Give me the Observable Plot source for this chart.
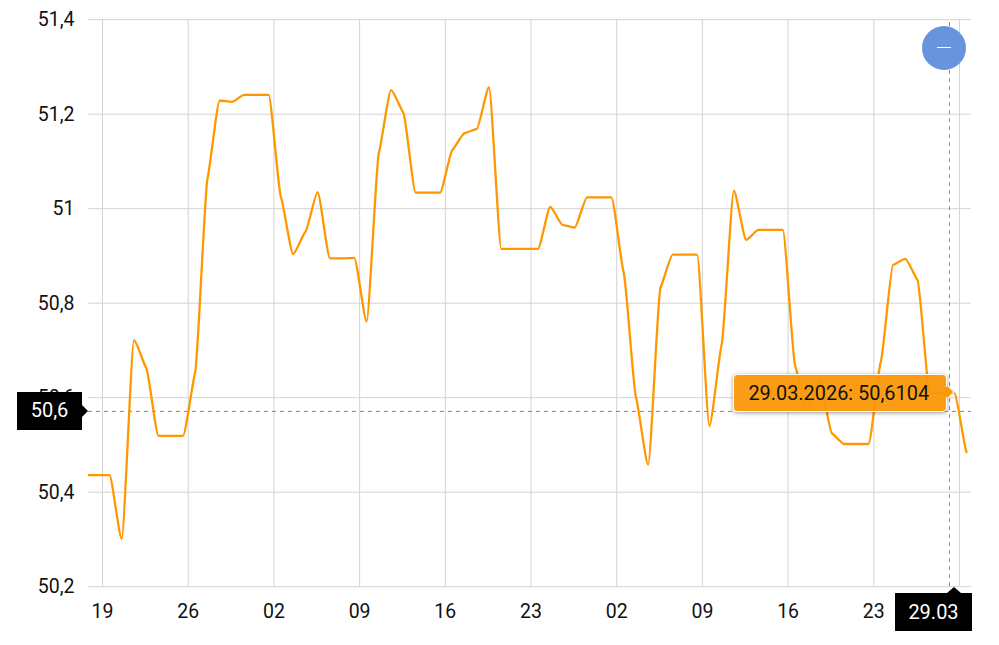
<!DOCTYPE html>
<html>
<head>
<meta charset="utf-8">
<script src="https://cdn.jsdelivr.net/npm/d3@7"></script>
<script src="https://cdn.jsdelivr.net/npm/@observablehq/plot@0.6"></script>
<style>
  html, body { margin: 0; padding: 0; background: #fff; }
  body { width: 999px; height: 645px; overflow: hidden; position: relative; font-family: Roboto, sans-serif; }
  #chart svg { display: block; }
  .flag { position: absolute; background: #000; color: #fff; font-size: 20px; display: flex; align-items: center; justify-content: center; box-sizing: border-box; }
  .flag::after { content: ""; position: absolute; width: 0; height: 0; border-style: solid; }
  #yflag { width: 65px; height: 38px; padding-bottom: 2px; }
  #yflag::after { left: 65px; top: 12.5px; border-width: 6px 0 6px 6px; border-color: transparent transparent transparent #000; }
  #xflag { width: 77px; height: 38px; padding-bottom: 1px; }
  #xflag::after { top: -6px; left: 52px; border-width: 0 7px 6px 7px; border-color: transparent transparent #000 transparent; }
  #tip { position: absolute; width: 214px; height: 38px; box-sizing: border-box; border: 1.5px solid #fff; border-radius: 4px; background: rgba(250,152,8,.95); box-shadow: 0 1px 4px rgba(0,0,0,.4); color: #111; font-size: 19.9px; display: flex; align-items: center; justify-content: center; white-space: nowrap; padding-right: 2px; }
  #tip::after { content: ""; position: absolute; right: -7px; top: 12px; width: 10px; height: 10px; box-sizing: border-box; transform: rotate(45deg) scale(.95); background: rgb(250,152,8); border-top: 1.5px solid #fff; border-right: 1.5px solid #fff; }
  #zoomout { position: absolute; left: 921.5px; top: 25.5px; width: 44px; height: 44px; border-radius: 50%; background: #6794dc; }
  #zoomout::after { content: ""; position: absolute; left: 15px; top: 21px; width: 14px; height: 1px; background: #fff; }
</style>
</head>
<body>
<div id="chart"></div>
<script>
const firstDate = "2026-01-17";
const lastDate = "2026-03-31";
const values = [
  50.436, 50.436, 50.436, 50.301, 50.722, 50.663, 50.519, 50.519, 50.519, 50.654,
  51.063, 51.229, 51.226, 51.241, 51.241, 51.241,
  51.025, 50.904, 50.951, 51.035, 50.895, 50.895, 50.896,
  50.761, 51.118, 51.251, 51.203, 51.034, 51.034, 51.034,
  51.124, 51.160, 51.169, 51.257, 50.915, 50.915, 50.915,
  50.915, 51.004, 50.966, 50.960, 51.024, 51.024, 51.024,
  50.865, 50.601, 50.458, 50.832, 50.903, 50.903, 50.903,
  50.540, 50.712, 51.038, 50.934, 50.955, 50.955, 50.955,
  50.668, 50.574, 50.637, 50.525, 50.502, 50.502, 50.502,
  50.676, 50.881, 50.894, 50.849, 50.6104, 50.6104, 50.6104, 50.485
];
const yTicks = [50.2, 50.4, 50.6, 50.8, 51, 51.2, 51.4];
const xTickDates = ["2026-01-19","2026-01-26","2026-02-02","2026-02-09","2026-02-16","2026-02-23","2026-03-02","2026-03-09","2026-03-16","2026-03-23","2026-03-30"];
const xTickHidden = ["2026-03-30"];
const xDomain = ["2026-01-17T20:33Z", "2026-03-30T23:30Z"];
const crossDate = "2026-03-29T04:20Z";
const crossValue = 50.571;
const activeDate = "2026-03-29";
const activeValue = 50.6104;
const readoutY = "50,6";
const readoutX = "29.03";
const tipText = "29.03.2026: 50,6104";

const hourOfDay = 13.7 * 3600e3;
const days = d3.utcDay.range(new Date(firstDate), new Date(lastDate));
const rows = days.map((d, i) => ({date: new Date(+d + hourOfDay), value: values[i]}));
const comma = d => String(d).replace(".", ",");

function softMonotone(kx, ky) {
  return ctx => {
    let px, py;
    const proxy = {
      moveTo(x, y) { ctx.moveTo(x, y); px = x; py = y; },
      lineTo(x, y) { ctx.lineTo(x, y); px = x; py = y; },
      closePath() { ctx.closePath(); },
      bezierCurveTo(a, b, c, d, x, y) {
        ctx.bezierCurveTo(px + (a - px) * kx, py + (b - py) * ky, x + (c - x) * kx, y + (d - y) * ky, x, y);
        px = x; py = y;
      }
    };
    return d3.curveMonotoneX(proxy);
  };
}

const tickDates = xTickDates.map(d => new Date(d));
const labelDates = tickDates.filter(d => !xTickHidden.includes(d.toISOString().slice(0, 10)));
const grid = "#d4d4d4";
const crossX = new Date(crossDate);

const plot = Plot.plot({
  width: 999,
  height: 645,
  marginLeft: 88,
  marginRight: 28,
  marginTop: 19.2,
  marginBottom: 58.8,
  style: {fontFamily: "Roboto, sans-serif", fontSize: "20px", color: "#111", background: "#fff"},
  x: {type: "utc", domain: xDomain.map(d => new Date(d))},
  y: {domain: [50.2, 51.4]},
  marks: [
    Plot.gridX(tickDates, {stroke: grid, strokeOpacity: 1}),
    Plot.gridY(yTicks, {stroke: grid, strokeOpacity: 1}),
    Plot.axisY(yTicks, {tickSize: 0, tickPadding: 14, tickFormat: comma, label: null, fontSize: 19.5, dy: 0.5}),
    Plot.axisX(labelDates, {tickSize: 0, tickPadding: 17, tickFormat: d3.utcFormat("%d"), label: null, fontSize: 19.5}),
    Plot.ruleX([crossX], {y1: 50.2, y2: 51.4, stroke: "#888", strokeDasharray: "4,4"}),
    Plot.ruleY([crossValue], {stroke: "#888", strokeDasharray: "4,4"}),
    Plot.line(rows, {x: "date", y: "value", stroke: "#ff9800", strokeWidth: 2.3, curve: softMonotone(0.6, 0.2), clip: true})
  ]
});
document.getElementById("chart").append(plot);

const sx = plot.scale("x").apply, sy = plot.scale("y").apply;
const add = (id, text) => {
  const el = document.createElement("div");
  el.id = id;
  if (text) el.textContent = text;
  document.body.append(el);
  return el;
};
const yf = add("yflag", readoutY);
yf.className = "flag";
yf.style.left = "17px";
yf.style.top = (sy(crossValue) - 18.5) + "px";

const xf = add("xflag", readoutX);
xf.className = "flag";
xf.style.left = "895px";
xf.style.top = "593px";

const tx = sx(new Date(+new Date(activeDate) + hourOfDay)), ty = sy(activeValue);
const tip = add("tip", tipText);
tip.style.left = (tx - 221) + "px";
tip.style.top = (ty - 18) + "px";

add("zoomout");
</script>
</body>
</html>
